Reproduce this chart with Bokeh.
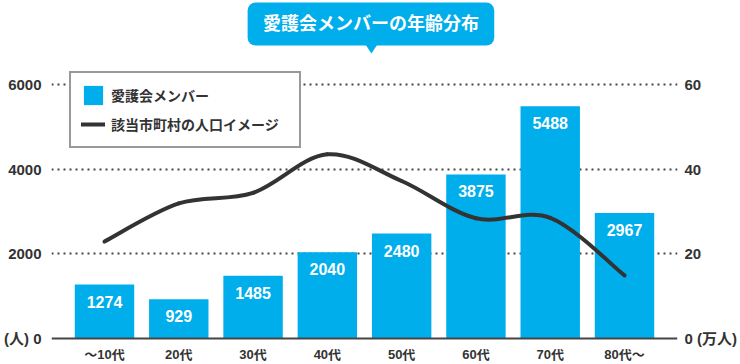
from bokeh.plotting import figure
from bokeh.models import (Range1d, LinearAxis, FixedTicker, BoxAnnotation, Label,
                          Legend, LegendItem, Span)
from bokeh.embed import file_html
from bokeh.resources import INLINE
from bokeh.core.properties import value

# ---------------- data ----------------
categories = ["～10代", "20代", "30代", "40代", "50代", "60代", "70代", "80代～"]
members = [1274, 929, 1485, 2040, 2480, 3875, 5488, 2967]          # 人
population = [22.9, 31.9, 34.4, 43.5, 37.2, 28.4, 28.5, 14.9]      # 万人
left_ticks = [0, 2000, 4000, 6000]
left_tick_labels = ["(人) 0", "2000", "4000", "6000"]
right_ticks = [0, 20, 40, 60]
right_tick_labels = ["0 (万人)", "20", "40", "60"]
title_text = "愛護会メンバーの年齢分布"
legend_labels = ["愛護会メンバー", "該当市町村の人口イメージ"]

# ---------------- style / layout ----------------
BLUE = "#00AEEC"
DARK = "#333333"
FONT = "Liberation Sans, Noto Sans CJK JP"

W, H = 740, 364
BORDER_L, BORDER_R = 48, 60
FRAME_W = W - BORDER_L - BORDER_R          # 632
FRAME_H = H                                # frame spans full height
BASE_FROM_TOP = 338                        # baseline position inside frame (px)
STEP = 75.0                                # px per category
PAD = (FRAME_W - STEP * len(categories)) / 2
X_START = -0.5 - PAD / STEP
X_END = len(categories) - 0.5 + PAD / STEP
PX_PER_UNIT = 254.0 / 6000.0               # 6000 -> 254 px above baseline
Y_END = BASE_FROM_TOP / PX_PER_UNIT
Y_START = -(FRAME_H - BASE_FROM_TOP) / PX_PER_UNIT
R_SCALE = 100.0                            # 人 / 万人 ratio of the two scales

idx = list(range(len(categories)))

p = figure(width=W, height=H, output_backend="svg", toolbar_location=None,
           title=None, x_axis_location=None,
           x_range=Range1d(X_START, X_END), y_range=Range1d(Y_START, Y_END),
           min_border_left=BORDER_L, min_border_right=BORDER_R,
           min_border_top=0, min_border_bottom=0,
           background_fill_color="white", border_fill_color="white")
p.outline_line_color = None
p.extra_y_ranges = {"right": Range1d(Y_START / R_SCALE, Y_END / R_SCALE)}

# helpers: frame pixel -> data coordinate (for decorations only)
def fx(px):
    return X_START + px / STEP

def fy(py_from_top):
    return (BASE_FROM_TOP - py_from_top) / PX_PER_UNIT

def style_axis(ax, standoff, size):
    ax.axis_line_color = None
    ax.major_tick_line_color = None
    ax.minor_tick_line_color = None
    ax.major_tick_out = 0
    ax.major_tick_in = 0
    ax.minor_tick_out = 0
    ax.minor_tick_in = 0
    ax.major_label_standoff = standoff
    ax.major_label_text_font = FONT
    ax.major_label_text_font_size = size
    ax.major_label_text_font_style = "bold"
    ax.major_label_text_color = DARK

# ---------------- axes ----------------
yax = p.yaxis[0]
yax.ticker = FixedTicker(ticks=left_ticks)
yax.major_label_overrides = {t: l for t, l in zip(left_ticks, left_tick_labels)}
style_axis(yax, 10, "15px")

rax = LinearAxis(y_range_name="right", ticker=FixedTicker(ticks=right_ticks))
rax.major_label_overrides = {t: l for t, l in zip(right_ticks, right_tick_labels)}
style_axis(rax, 7, "15px")
p.add_layout(rax, "right")

p.xgrid.visible = False
p.ygrid.ticker = FixedTicker(ticks=left_ticks[1:])
p.ygrid.grid_line_color = "#444444"
p.ygrid.grid_line_width = 2
p.ygrid.grid_line_dash = "2 4"

# ---------------- bars ----------------
bars = p.vbar(x=idx, top=members, width=0.8, fill_color=BLUE, line_color=None)
p.text(x=idx, y=members, text=[str(m) for m in members], y_offset=17,
       text_align="center", text_baseline="middle", text_color="white",
       text_font=value(FONT), text_font_size="16px", text_font_style="bold")

# baseline (zero line) and category labels below it
p.add_layout(Span(location=left_ticks[0], dimension="width",
                  line_color="#444444", line_width=2))
p.text(x=idx, y=[left_ticks[0]] * len(idx), text=categories, y_offset=16,
       text_align="center", text_baseline="middle", text_color=DARK,
       text_font=value(FONT), text_font_size="13px", text_font_style="bold")

# ---------------- smooth population curve (cubic Bezier through data points) ----------------
n = len(population)
def pt(i):
    i = max(0, min(n - 1, i))
    return idx[i], population[i]

x0, y0, x1, y1, cx0, cy0, cx1, cy1 = [], [], [], [], [], [], [], []
for i in range(n - 1):
    xa, ya = pt(i)
    xb, yb = pt(i + 1)
    xp, yp = pt(i - 1)
    xn, yn = pt(i + 2)
    x0.append(xa); y0.append(ya); x1.append(xb); y1.append(yb)
    cx0.append(xa + (xb - xp) / 6.0); cy0.append(ya + (yb - yp) / 6.0)
    cx1.append(xb - (xn - xa) / 6.0); cy1.append(yb - (yn - ya) / 6.0)

curve = p.bezier(x0=x0, y0=y0, x1=x1, y1=y1, cx0=cx0, cy0=cy0, cx1=cx1, cy1=cy1,
                 line_color=DARK, line_width=4, line_cap="round",
                 y_range_name="right")

# ---------------- legend ----------------
legend = Legend(items=[LegendItem(label=legend_labels[0], renderers=[bars]),
                       LegendItem(label=legend_labels[1], renderers=[curve])],
                location=(18, 216), margin=0,
                glyph_width=24, glyph_height=24, label_standoff=6, label_width=178,
                spacing=5, padding=10,
                border_line_color=DARK, border_line_width=2,
                background_fill_color="white", background_fill_alpha=1.0,
                label_text_font=FONT, label_text_font_size="14px",
                label_text_font_style="bold", label_text_color=DARK)
p.add_layout(legend)

# ---------------- title callout ----------------
box_l, box_r, box_t, box_b = 198, 447, 2, 45     # frame pixels
tip_x, tip_y, tip_hw = 323, 53, 6
p.add_layout(BoxAnnotation(left=fx(box_l), right=fx(box_r), top=fy(box_t), bottom=fy(box_b),
                           fill_color=BLUE, fill_alpha=1.0, line_color=None,
                           border_radius=8))
p.patch(x=[fx(tip_x - tip_hw), fx(tip_x + tip_hw), fx(tip_x)],
        y=[fy(box_b - 1), fy(box_b - 1), fy(tip_y)],
        fill_color=BLUE, line_color=None)
p.add_layout(Label(x=fx((box_l + box_r) / 2), y=fy((box_t + box_b) / 2), text=title_text,
                   text_align="center", text_baseline="middle", text_color="white",
                   text_font=FONT, text_font_size="18px", text_font_style="bold"))

open("out.html", "w").write(file_html(p, INLINE))
